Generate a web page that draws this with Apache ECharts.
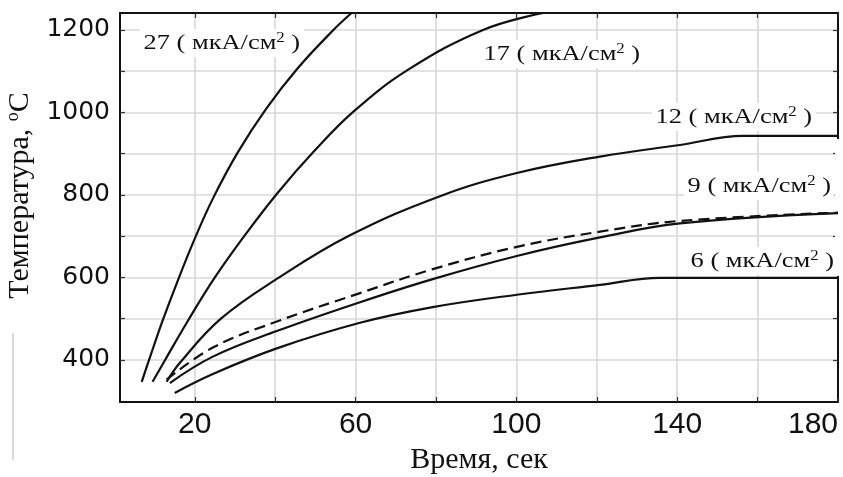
<!DOCTYPE html>
<html>
<head>
<meta charset="utf-8">
<script src="https://cdn.jsdelivr.net/npm/echarts@6/dist/echarts.min.js"></script>
<style>
  html, body { margin: 0; padding: 0; background: #fff; }
  #chart { width: 843px; height: 477px; }
</style>
</head>
<body>
<div id="chart"></div>
<script>
// Heating curves: temperature (°C) versus time (s) for several current densities.
const t27 = [6.8, 8.8, 12.0, 15.8, 20.0, 24.5, 30.7, 37.7, 45.6, 54.6, 59.0];
const T27 = [347, 405, 495, 593, 694, 791, 903, 1008, 1107, 1201, 1241];

const t17 = [9.5, 12.8, 18.3, 25.0, 32.9, 40.7, 49.6, 59.6, 73.0, 91.7, 106.6];
const T17 = [347, 403, 495, 600, 708, 806, 905, 1003, 1103, 1200, 1241];

const t12 = [13.0, 16.3, 26.5, 41.0, 58.6, 81.0, 100.1, 120.8, 140.7, 156.4, 180];
const T12 = [347, 393, 500, 600, 702, 797, 853, 893, 921, 943, 943];

const t9 = [13.8, 24.5, 40.4, 61.1, 79.2, 100.1, 120.8, 140.7, 180];
const T9 = [344, 408, 470, 540, 596, 652, 697, 731, 756];

const t9d = [13.0, 24.5, 40.4, 61.1, 79.2, 100.1, 120.8, 140.7, 180];
const T9d = [352, 430, 493, 562, 620, 674, 711, 737, 757];

const t6 = [15.0, 24.5, 40.4, 61.1, 79.2, 100.1, 120.8, 135.7, 180];
const T6 = [320, 366, 428, 490, 528, 558, 582, 599, 599];

// Axis ticks and labels
const xTicks = [20, 40, 60, 80, 100, 120, 140, 160, 180];
const xLabels = [20, 60, 100, 140, 180];
const yTicks = [400, 500, 600, 700, 800, 900, 1000, 1100, 1200];
const yLabels = [400, 600, 800, 1000, 1200];

// Curve captions: density value
const curveNames = ['27', '17', '12', '9', '6'];

const pairs = (ts, vs) => ts.map((t, i) => [t, vs[i]]);

const X_MIN = 1.4, X_MAX = 180, Y_MIN = 298, Y_MAX = 1241;

const chart = echarts.init(document.getElementById('chart'), null, { renderer: 'canvas' });

const gridLine = { show: true, lineStyle: { color: '#d8d8d8', width: 1.6 } };
const frameLine = { show: true, lineStyle: { color: '#111', width: 2 } };
const inTick = (vals) => ({ show: true, inside: true, length: 5, customValues: vals, lineStyle: { color: '#333', width: 1.2 } });

function lineSeries(name, ts, vs, dashed) {
  return {
    name: name,
    type: 'line',
    data: pairs(ts, vs),
    showSymbol: false,
    symbol: 'none',
    smooth: 0.4,
    clip: true,
    z: 3,
    lineStyle: { color: '#111', width: 2.2, type: dashed ? [11, 6] : 'solid' },
    emphasis: { disabled: true }
  };
}

// Caption text, slightly widened horizontally
function caption(num, x, y) {
  return {
    type: 'text',
    x: x, y: y, z: 50,
    scaleX: 1.2,
    style: {
      text: '{t|' + num + ' ( мкА/см}{s|2}{t| )}',
      fill: '#111',
      verticalAlign: 'middle',
      backgroundColor: '#fff',
      padding: [2, 3],
      rich: {
        t: { fontFamily: 'Liberation Serif', fontSize: 22, fill: '#111', lineHeight: 24 },
        s: { fontFamily: 'Liberation Serif', fontSize: 14, fill: '#111', verticalAlign: 'top', lineHeight: 24, padding: [0, 0, 8, 0] }
      }
    }
  };
}

chart.setOption({
  animation: false,
  backgroundColor: '#fff',
  grid: { left: 120, right: 5, top: 13, bottom: 75, outerBoundsMode: 'none', containLabel: false },
  xAxis: [
    {
      type: 'value', min: X_MIN, max: X_MAX, position: 'bottom',
      axisLine: frameLine,
      axisTick: inTick(xTicks),
      splitLine: gridLine,
      axisLabel: {
        customValues: xLabels, margin: 8, alignMaxLabel: 'right',
        formatter: (v) => String(v),
        fontFamily: 'Liberation Sans', fontSize: 30, color: '#111'
      },
      name: 'Время, сек', nameLocation: 'middle', nameGap: 39,
      nameTextStyle: { fontFamily: 'Liberation Serif', fontSize: 30, color: '#111' }
    },
    {
      type: 'value', min: X_MIN, max: X_MAX, position: 'top',
      axisLine: frameLine,
      axisTick: inTick(xTicks),
      axisLabel: { show: false },
      splitLine: { show: false }
    }
  ],
  yAxis: [
    {
      type: 'value', min: Y_MIN, max: Y_MAX, position: 'left',
      axisLine: frameLine,
      axisTick: inTick(yTicks),
      splitLine: gridLine,
      axisLabel: {
        customValues: yLabels, margin: 10,
        formatter: (v) => String(v),
        fontFamily: 'DejaVu Sans', fontSize: 25, color: '#111'
      },
      name: '{a|Температура, }{o|o}{a|C}', nameLocation: 'middle', nameGap: 70,
      nameTextStyle: {
        padding: [0, 0, 0, 24],
        rich: {
          a: { fontFamily: 'Liberation Serif', fontSize: 30, color: '#111', lineHeight: 32 },
          o: { fontFamily: 'Liberation Serif', fontSize: 18, color: '#111', verticalAlign: 'top', lineHeight: 32, padding: [0, 0, 13, 0] }
        }
      }
    },
    {
      type: 'value', min: Y_MIN, max: Y_MAX, position: 'right',
      axisLine: frameLine,
      axisTick: inTick(yTicks),
      axisLabel: { show: false },
      splitLine: { show: false }
    }
  ],
  series: [
    lineSeries(curveNames[0], t27, T27, false),
    lineSeries(curveNames[1], t17, T17, false),
    lineSeries(curveNames[2], t12, T12, false),
    lineSeries(curveNames[3], t9, T9, false),
    lineSeries(curveNames[3] + 'd', t9d, T9d, true),
    lineSeries(curveNames[4], t6, T6, false)
  ],
  graphic: [
    caption(curveNames[0], 140, 43),
    caption(curveNames[1], 480, 54),
    caption(curveNames[2], 652, 117),
    caption(curveNames[3], 684, 186),
    caption(curveNames[4], 687, 261),
    // gap in the right frame next to the captions
    { type: 'rect', z: 1, shape: { x: 835, y: 139, width: 7, height: 137 }, style: { fill: '#fff' } },
    // thin vertical rule at the far left margin
    { type: 'line', z: 1, shape: { x1: 13, y1: 333, x2: 13, y2: 460 }, style: { stroke: '#b5b5b5', lineWidth: 1 } }
  ]
});
</script>
</body>
</html>
